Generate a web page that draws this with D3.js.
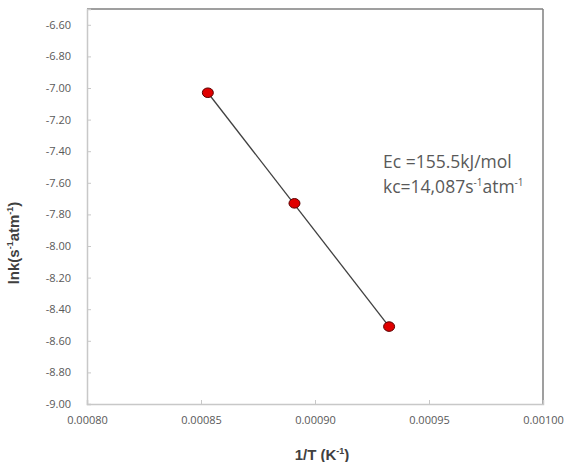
<!DOCTYPE html>
<html>
<head>
<meta charset="utf-8">
<script src="https://cdn.jsdelivr.net/npm/d3@7"></script>
<style>
  body { margin: 0; background: #fff; }
  svg { display: block; font-family: "Open Sans", "Noto Sans", sans-serif; }
</style>
</head>
<body>
<svg id="chart" width="568" height="462"></svg>
<script>
// data
var invT = [0.000853, 0.000891, 0.0009325];
var lnk = [-7.03, -7.73, -8.51];
var xTicks = [0.0008, 0.00085, 0.0009, 0.00095, 0.001];
var yTicks = [-9.0, -8.8, -8.6, -8.4, -8.2, -8.0, -7.8, -7.6, -7.4, -7.2, -7.0, -6.8, -6.6];

var svg = d3.select("#chart"),
    margin = {top: 9, right: 25, bottom: 58, left: 87},
    width = +svg.attr("width") - margin.left - margin.right,
    height = +svg.attr("height") - margin.top - margin.bottom;

var x = d3.scaleLinear().domain([0.0008, 0.001]).range([0, width]),
    y = d3.scaleLinear().domain([-9.0, -6.5]).range([height, 0]);

var g = svg.append("g")
    .attr("transform", "translate(" + margin.left + "," + margin.top + ")");

// plot area border (top / right darker)
g.append("line").attr("x1", 0).attr("x2", width).attr("y1", 0).attr("y2", 0)
    .attr("stroke", "#7f7f7f").attr("stroke-width", 1.5);
g.append("line").attr("x1", width).attr("x2", width).attr("y1", 0).attr("y2", height)
    .attr("stroke", "#7f7f7f").attr("stroke-width", 1.5);

var xAxis = g.append("g")
    .attr("transform", "translate(0," + height + ")")
    .call(d3.axisBottom(x).tickValues(xTicks).tickFormat(d3.format(".5f")).tickSize(-4).tickPadding(12));
var yAxis = g.append("g")
    .call(d3.axisLeft(y).tickValues(yTicks).tickFormat(d3.format(".2f")).tickSize(-4).tickPadding(16));

[xAxis, yAxis].forEach(function (a) {
    a.select(".domain").attr("stroke", "#c8c8c8").attr("stroke-width", 1.5);
    a.selectAll(".tick line").attr("stroke", "#c8c8c8");
    a.selectAll(".tick text")
        .attr("fill", "#595959")
        .style("font-size", "11px")
        .style("font-family", "Open Sans, Noto Sans, sans-serif");
});
yAxis.selectAll(".tick text").text(function (d) { return d3.format(".2f")(d).replace("−", "-"); });
xAxis.selectAll(".tick text").attr("dy", "0.71em");

// trend line through the points
var line = d3.line()
    .x(function (d) { return x(d[0]); })
    .y(function (d) { return y(d[1]); });
var pts = invT.map(function (v, i) { return [v, lnk[i]]; });
g.append("path")
    .datum([pts[0], pts[pts.length - 1]])
    .attr("d", line)
    .attr("fill", "none")
    .attr("stroke", "#404040")
    .attr("stroke-width", 1.3);

g.selectAll(".dot")
    .data(pts)
    .enter().append("ellipse")
    .attr("class", "dot")
    .attr("cx", function (d) { return x(d[0]); })
    .attr("cy", function (d) { return y(d[1]); })
    .attr("rx", 5.5)
    .attr("ry", 4.8)
    .attr("fill", "#e00000")
    .attr("stroke", "#5a0000")
    .attr("stroke-width", 1);

// annotation
var ann = svg.append("text")
    .attr("x", 383)
    .attr("y", 168)
    .attr("fill", "#595959")
    .style("font-size", "17.5px");
ann.append("tspan").text("Ec =155.5kJ/mol");
var ann2 = svg.append("text")
    .attr("x", 383)
    .attr("y", 193)
    .attr("fill", "#595959")
    .style("font-size", "17.5px");
ann2.append("tspan").text("kc=14,087s");
ann2.append("tspan").attr("dy", -7).style("font-size", "10px").text("-1");
ann2.append("tspan").attr("dy", 7).text("atm");
ann2.append("tspan").attr("dy", -7).style("font-size", "10px").text("-1");

// y axis label
var yl = svg.append("text")
    .attr("transform", "translate(19,243) rotate(-90)")
    .attr("text-anchor", "middle")
    .attr("fill", "#404040")
    .style("font-family", "Liberation Sans, Arial, sans-serif")
    .style("font-size", "15px")
    .style("font-weight", "bold");
yl.append("tspan").text("lnk(s");
yl.append("tspan").attr("dy", -6).style("font-size", "9px").text("-1");
yl.append("tspan").attr("dy", 6).text("atm");
yl.append("tspan").attr("dy", -6).style("font-size", "9px").text("-1");
yl.append("tspan").attr("dy", 6).text(")");

// x axis label
var xl = svg.append("text")
    .attr("x", 322)
    .attr("y", 460)
    .attr("text-anchor", "middle")
    .attr("fill", "#404040")
    .style("font-family", "Liberation Sans, Arial, sans-serif")
    .style("font-size", "15px")
    .style("font-weight", "bold");
xl.append("tspan").text("1/T (K");
xl.append("tspan").attr("dy", -6).style("font-size", "9px").text("-1");
xl.append("tspan").attr("dy", 6).text(")");
</script>
</body>
</html>
